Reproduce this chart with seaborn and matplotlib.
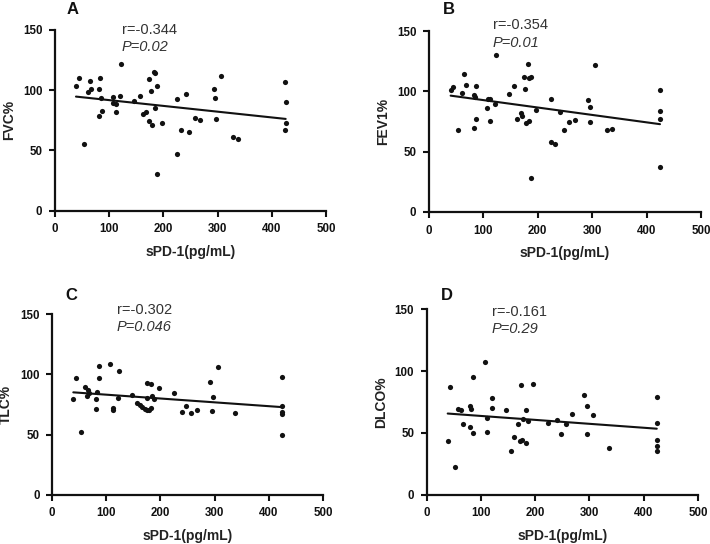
import matplotlib
matplotlib.use("Agg")
import matplotlib.pyplot as plt
import seaborn as sns
import pandas as pd

sns.set_theme(style="white")
plt.rcParams['font.family'] = ['Liberation Sans', 'DejaVu Sans']

panel_labels = ["A", "B", "C", "D"]
y_labels = ["FVC%", "FEV1%", "TLC%", "DLCO%"]
x_label = "sPD-1(pg/mL)"
r_texts = ["r=-0.344", "r=-0.354", "r=-0.302", "r=-0.161"]
p_texts = ["P=0.02", "P=0.01", "P=0.046", "P=0.29"]
x_ticks = [0, 100, 200, 300, 400, 500]
y_ticks = [0, 50, 100, 150]

x_A = [38.7, 44.3, 64, 83.6, 60.3, 67, 81.2, 85.5, 86.1, 81.8, 53, 107, 107, 112.5, 112.5, 120.5,
       122.4, 146.4, 156.8, 162.4, 168.6, 174, 176.6, 183.2, 185, 184, 187.6, 172.8, 178.4, 197.4,
       187.6, 225, 225.7, 232, 241, 248, 258, 268, 293, 296, 297, 307, 329, 338, 425, 425.6, 425.6, 425]
y_A = [103.2, 109.9, 107.9, 110.1, 98.3, 101.3, 100.8, 93.3, 83, 78.9, 55.6, 94.6, 89.6, 88.6, 82.2, 95,
       122, 91.3, 95, 80, 81.9, 109.6, 99.4, 114.9, 114, 85, 103.5, 74.2, 70.9, 72.5,
       30.5, 93, 47.3, 67, 96.9, 65, 76.7, 75, 101, 93.8, 76.4, 112, 60.9, 59.2, 106.6, 90, 73, 66.7]

x_B = [39.8, 44.7, 64.3, 60.7, 67.4, 85.8, 82.1, 84, 53.3, 82.1, 86.4, 106.6, 107.9, 112.1, 112.7, 121.3,
       122.5, 146.5, 156.8, 162.3, 168.5, 171.5, 174.6, 176.5, 178.3, 182.5, 183.2, 184.4, 187.5, 187.5,
       197.2, 224.9, 224.9, 231, 240, 247.5, 258, 268.4, 291.6, 295.3, 296, 305.7, 327.8, 337, 424, 424.6, 424, 424]
y_B = [101.1, 103.3, 114.1, 98.6, 105, 104.1, 96.9, 95, 68.2, 69.8, 77.3, 85.9, 93.4, 93.4, 75.1, 89.5,
       130.3, 97.5, 104.4, 77.3, 82, 79.5, 112.1, 101.9, 74, 122.9, 75.6, 111, 111.6, 27.9,
       84.8, 93.6, 57.9, 56.5, 82.8, 68.1, 74.7, 76.4, 92.5, 86.9, 74.5, 121.8, 68.1, 68.4, 100.8, 83.9, 77.2, 37.1]

x_C = [39.3, 44.3, 52.9, 60.3, 64, 66.4, 68.3, 81.8, 81.8, 83.6, 86.1, 86.1, 107.6, 112.5, 112.5, 122.4,
       123, 147, 157.4, 162.9, 166.6, 171, 175.3, 179.5, 183.2, 174.7, 183.2, 185.1, 187.6, 175.8,
       197.4, 224.5, 240.5, 246.6, 257, 268, 291.5, 296.4, 295.8, 306.3, 338.3, 425, 425, 425, 425, 425]
y_C = [79.6, 97.1, 51.9, 89.6, 81.9, 86.9, 84.9, 79.6, 71.5, 85.2, 107.3, 97.1, 109, 72.4, 70.2, 80.4,
       102.9, 82.7, 76.3, 74.4, 73.2, 71, 70.2, 70.2, 71.9, 92.7, 91.8, 82.4, 79.6, 80.7,
       88.8, 84.3, 69, 73.5, 67.9, 70.2, 93.4, 81, 69.6, 106.5, 68.2, 98.2, 74, 68.5, 66.8, 49.9]

x_D = [38.7, 43.5, 52.1, 58.2, 63.2, 66.3, 80.3, 82.2, 80.3, 85.3, 85.3, 106.9, 111.7, 111.7, 120.9, 120.3,
       145.6, 155.9, 161.4, 168.2, 171.4, 174.3, 176.2, 182.4, 176.7, 186, 183.6, 195.9, 224, 239.3,
       246.6, 257, 267.5, 290.8, 295.7, 295.7, 306, 336.8, 424, 424, 424, 424, 424]
y_D = [43.7, 87.4, 22.2, 69.3, 68.3, 57, 72, 69.1, 54.8, 95, 50.2, 107.4, 62.3, 50.7, 78, 70.1,
       68.3, 35.6, 46.9, 57.2, 43.2, 89, 44.3, 68.5, 61, 59.5, 42.1, 89.8, 57.7, 60.7,
       49.1, 56.9, 65, 80.9, 72, 49.4, 64.2, 38, 79.3, 57.7, 44.5, 39.7, 35.6]

xs = [x_A, x_B, x_C, x_D]
ys = [y_A, y_B, y_C, y_D]

W, H = 710, 544
fig = plt.figure(figsize=(W / 100, H / 100), dpi=100)

# axes boxes in pixels: left, right, top, bottom
boxes = [(55, 326, 30, 210.7), (429, 701, 31, 212), (52, 323, 314.3, 494.7), (426.7, 698, 309.3, 494.7)]
label_pos = [(67, 10), (443, 9), (65, 295), (441, 295)]
rtext_pos = [(122, 30, 47), (493, 25, 43), (117, 310, 327), (492, 312, 329)]

ink = "#111111"
for i in range(4):
    l, r, t, b = boxes[i]
    ax = fig.add_axes([l / W, 1 - b / H, (r - l) / W, (b - t) / H])
    df = pd.DataFrame({"x": xs[i], "y": ys[i]})
    sns.regplot(data=df, x="x", y="y", ax=ax, ci=None, truncate=True,
                scatter_kws=dict(s=14, color=ink, linewidths=0, alpha=1),
                line_kws=dict(color=ink, lw=1.5))
    ax.set_xlim(0, 500)
    ax.set_ylim(0, 150)
    ax.set_xticks(x_ticks)
    ax.set_yticks(y_ticks)
    for s in ["top", "right"]:
        ax.spines[s].set_visible(False)
    for s in ["left", "bottom"]:
        ax.spines[s].set_linewidth(1.6)
        ax.spines[s].set_color(ink)
    ax.tick_params(axis="both", direction="out", length=4.5, width=1.5, colors=ink,
                   labelsize=8.3, pad=4.5, bottom=True, left=True)
    for lab in ax.get_xticklabels() + ax.get_yticklabels():
        lab.set_fontweight("bold")
    ax.set_xlabel(x_label, fontsize=10, fontweight="bold", color="#222222", labelpad=7)
    ax.set_ylabel(y_labels[i], fontsize=10, fontweight="bold", color="#222222", labelpad=5)
    ax.grid(False)

    lx, ly = label_pos[i]
    fig.text(lx / W, 1 - ly / H, panel_labels[i], fontsize=12, fontweight="bold",
             color=ink, ha="left", va="center")
    tx, ty1, ty2 = rtext_pos[i]
    fig.text(tx / W, 1 - ty1 / H, r_texts[i], fontsize=10.5, color="#333333", ha="left", va="center")
    fig.text(tx / W, 1 - ty2 / H, p_texts[i], fontsize=10.5, color="#333333", ha="left", va="center",
             style="italic")

fig.savefig("out.png", dpi=100, facecolor="white")
